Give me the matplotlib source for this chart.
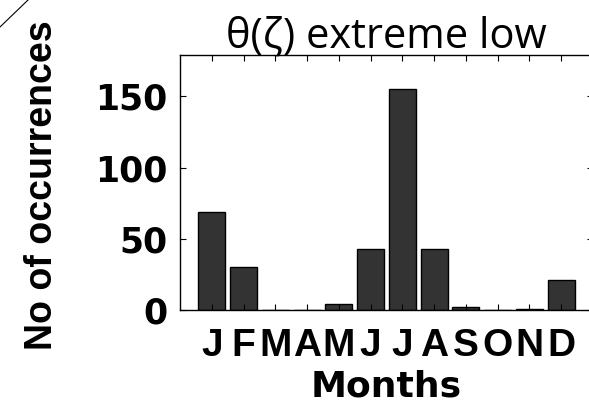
import matplotlib
matplotlib.use("Agg")
import matplotlib.pyplot as plt
from matplotlib.lines import Line2D

months = ["J", "F", "M", "A", "M", "J", "J", "A", "S", "O", "N", "D"]
occurrences = [69, 30, 0, 0, 4, 43, 155, 43, 2, 0, 1, 21]
yticks = [0, 50, 100, 150]


def plot_counts():
    fig = plt.figure(figsize=(5.89, 4.07), dpi=100)
    ax = fig.add_axes([180 / 589, 97 / 407, 413 / 589, 255 / 407])

    pos = list(range(1, len(months) + 1))
    ax.bar(pos, occurrences, width=0.85, color="#333333",
           edgecolor="black", linewidth=1)

    ax.set_xlim(0, 13)
    ax.set_ylim(0, 179)
    ax.set_xticks(pos)
    ax.set_xticklabels(months, fontsize=28, fontweight="bold",
                       family="Liberation Sans")
    ax.set_yticks(yticks)
    ax.set_yticklabels([str(v) for v in yticks], fontsize=25,
                       fontweight="bold", family="DejaVu Sans")
    ax.tick_params(direction="in", length=4, width=0.8,
                   top=True, right=True, pad=9)
    ax.tick_params(axis="x", pad=13)

    ax.set_xlabel("Months", fontsize=26, fontweight="bold",
                  family="DejaVu Sans")
    ax.xaxis.set_label_coords(0.5, -0.235)
    ax.set_ylabel("No of occurrences", fontsize=27, fontweight="bold",
                  family="Liberation Sans")
    ax.yaxis.set_label_coords(-0.29, 0.49)
    ax.set_title("θ(ζ) extreme low", fontsize=30, family="Open Sans", pad=5)

    for s in ax.spines.values():
        s.set_linewidth(1)

    # stray stroke in the corner of the scan
    fig.add_artist(Line2D([0, 28 / 589], [1 - 27 / 407, 1],
                          transform=fig.transFigure, color="black", lw=0.8))

    fig.savefig("out.png", dpi=100)


if __name__ == "__main__":
    plot_counts()
